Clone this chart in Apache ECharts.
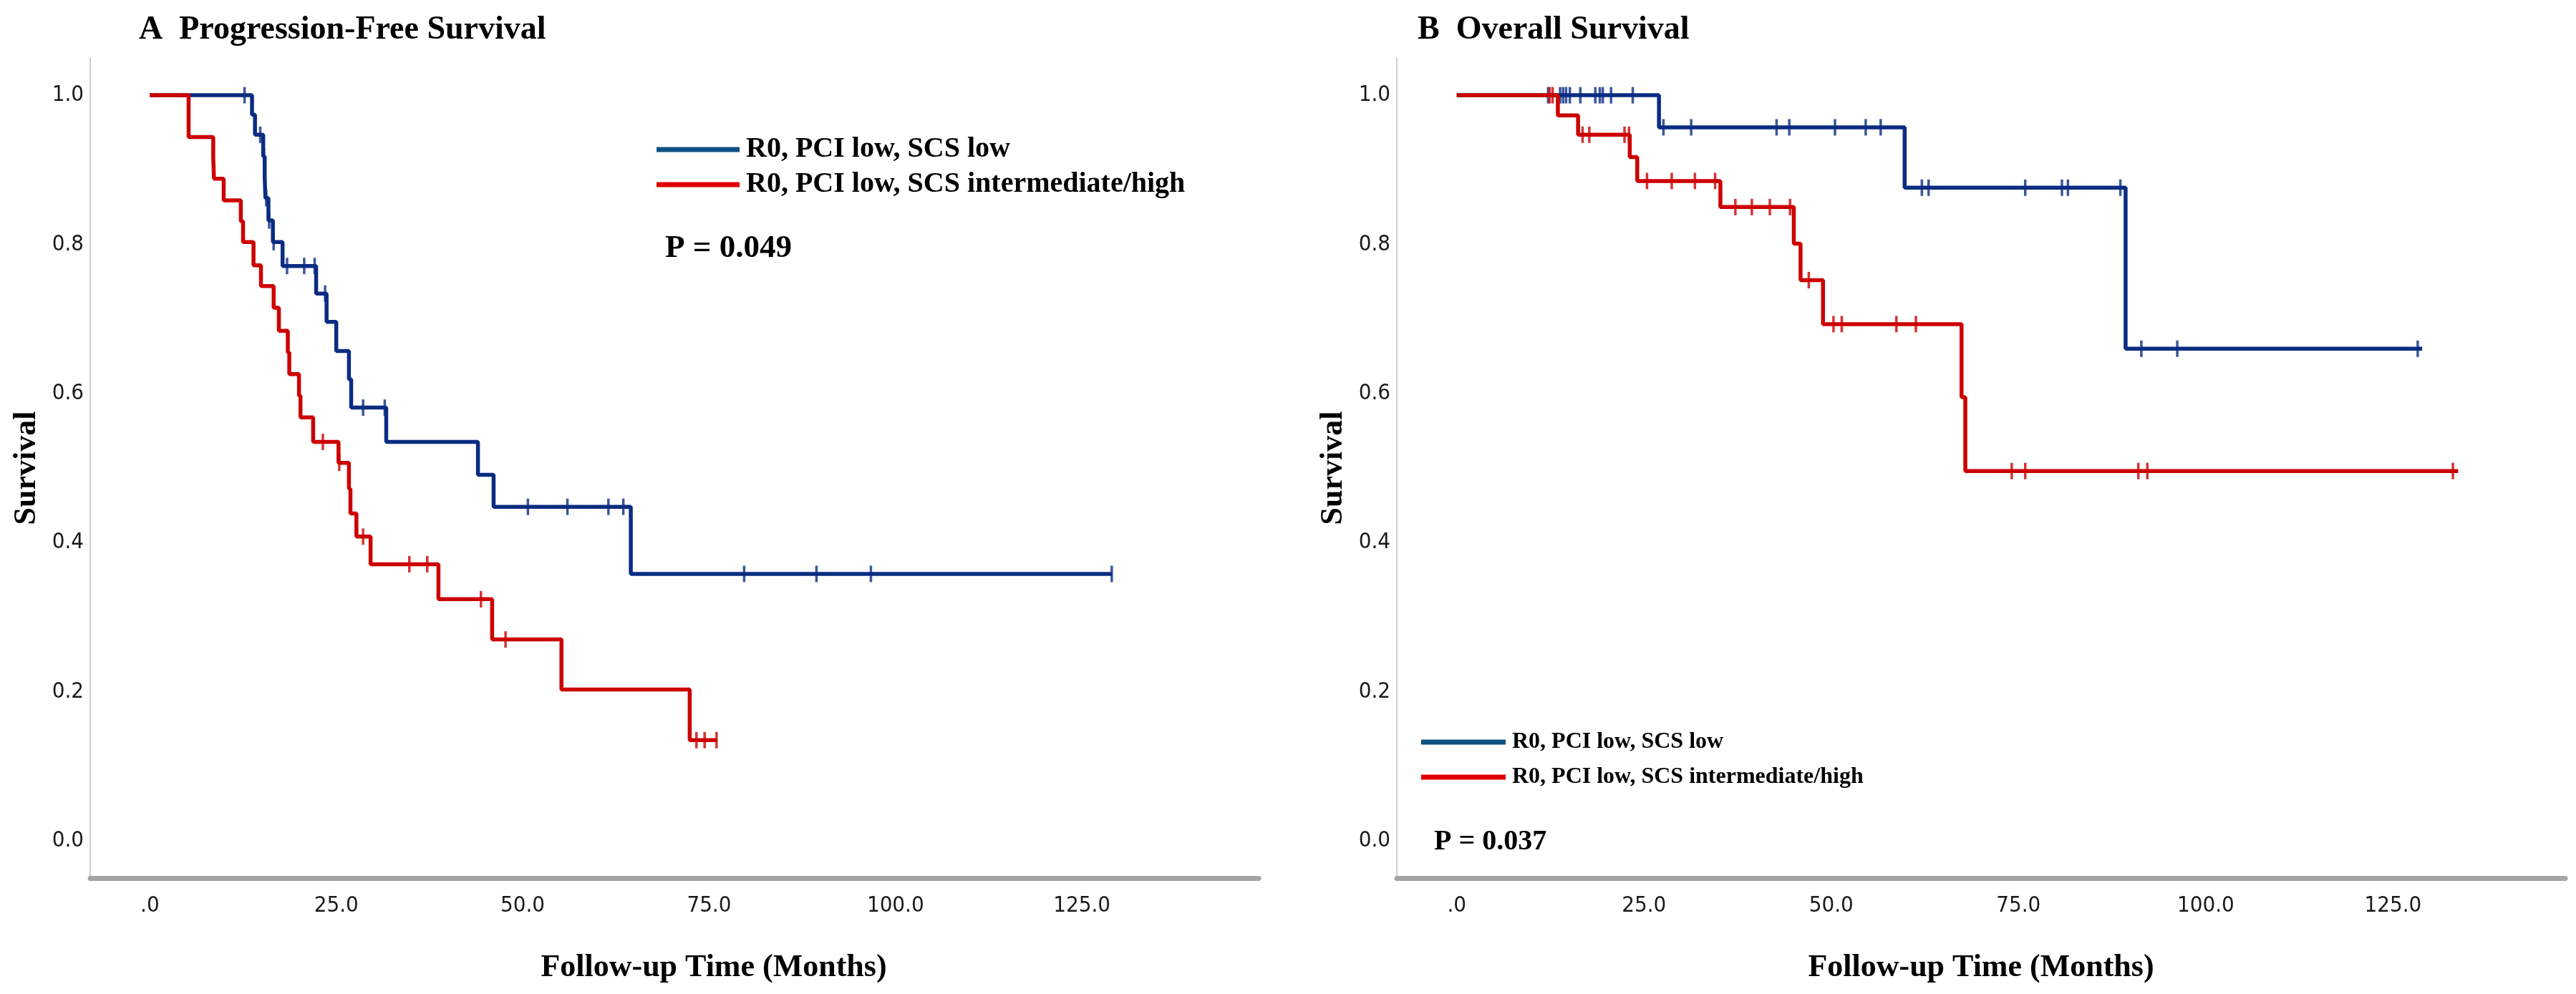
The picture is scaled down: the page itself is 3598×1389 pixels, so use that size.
<!DOCTYPE html>
<html>
<head>
<meta charset="utf-8">
<script src="https://cdn.jsdelivr.net/npm/echarts@6/dist/echarts.min.js"></script>
<style>
html,body{margin:0;padding:0;background:#fff;}
#chart{width:3598px;height:1389px;}
</style>
</head>
<body>
<div id="chart"></div>
<script>
// ---- axis ticks ----
const xTickValues = [0, 25, 50, 75, 100, 125];
const xTickLabels = ['.0', '25.0', '50.0', '75.0', '100.0', '125.0'];
const yTickValues = [0, 0.2, 0.4, 0.6, 0.8, 1.0];
const yTickLabels = ['0.0', '0.2', '0.4', '0.6', '0.8', '1.0'];

const groupNames = ['R0, PCI low, SCS low', 'R0, PCI low, SCS intermediate/high'];

// ---- A: Progression-Free Survival ----
const pfsLowTime = [0, 13.7, 14.1, 15.2, 15.4, 15.5, 15.9, 16.5, 17.8, 22.3, 23.7, 25.0, 26.7, 27.0, 31.7, 44.0, 46.1, 64.5, 129.0];
const pfsLowSurv = [1, 0.974, 0.947, 0.918, 0.890, 0.862, 0.832, 0.803, 0.771, 0.734, 0.696, 0.657, 0.619, 0.581, 0.535, 0.491, 0.448, 0.358, 0.358];
const pfsLowCensor = [12.7, 14.8, 15.3, 15.6, 16.0, 16.6, 18.4, 20.7, 22.1, 23.5, 28.6, 31.5, 50.7, 56.0, 61.5, 63.5, 79.7, 89.4, 96.7, 129.0];

const pfsHighTime = [0, 5.2, 8.5, 8.6, 9.9, 12.2, 12.5, 13.9, 14.9, 16.6, 17.3, 18.5, 18.7, 20.0, 20.2, 21.9, 25.3, 26.7, 26.9, 27.7, 29.6, 38.7, 45.9, 55.2, 72.4, 76.0];
const pfsHighSurv = [1, 0.944, 0.916, 0.888, 0.859, 0.831, 0.803, 0.772, 0.744, 0.715, 0.684, 0.655, 0.626, 0.597, 0.568, 0.535, 0.507, 0.472, 0.439, 0.408, 0.371, 0.324, 0.270, 0.203, 0.135, 0.135];
const pfsHighCensor = [23.2, 25.4, 28.6, 34.8, 37.2, 44.4, 47.7, 73.3, 74.4, 76.0];

// ---- B: Overall Survival ----
const osLowTime = [0, 27.0, 59.8, 89.3, 128.9];
const osLowSurv = [1, 0.957, 0.876, 0.660, 0.660];
const osLowCensor = [12.2, 13.8, 14.2, 14.6, 15.1, 16.5, 18.5, 19.1, 19.5, 20.6, 23.5, 27.6, 31.3, 42.7, 44.4, 50.5, 54.6, 56.6, 62.1, 63.0, 75.9, 80.8, 81.6, 88.6, 91.4, 96.2, 128.3];

const osHighTime = [0, 13.5, 16.2, 23.1, 24.1, 35.2, 45.0, 45.9, 48.9, 67.4, 67.9, 133.7];
const osHighSurv = [1, 0.973, 0.947, 0.917, 0.885, 0.850, 0.801, 0.752, 0.693, 0.595, 0.496, 0.496];
const osHighCensor = [12.4, 12.8, 16.8, 17.7, 22.4, 23.0, 25.4, 28.7, 31.8, 34.5, 37.2, 39.4, 41.8, 44.5, 47.0, 50.3, 51.4, 58.7, 61.3, 74.1, 75.9, 91.0, 92.2, 133.0];

// ---- helpers ----
function pairs(t, s) { return t.map((v, i) => [v, s[i]]); }
function levelAt(t, s, x) {
  let v = s[0];
  for (let i = 0; i < t.length; i++) { if (t[i] <= x) v = s[i]; }
  return v;
}
function censorPts(c, t, s) { return c.map(x => [x, levelAt(t, s, x)]); }

const BLUE = '#0a2c82';
const RED = '#cc0000';
const LEG_BLUE = '#0d5183';
const LEG_RED = '#e00000';
const SERIF = "'Liberation Serif', 'Times New Roman', serif";
const NARROW = "'Liberation Sans Narrow', 'Arial Narrow', 'DejaVu Sans Condensed', 'Roboto Condensed', 'Liberation Sans', Arial, sans-serif";

function xAxisCfg(idx, max, nameShift) {
  return {
    type: 'value', gridIndex: idx, min: -8, max: max,
    axisLine: { show: true, onZero: false, lineStyle: { color: '#a3a3a3', width: 7 } },
    axisTick: { show: false },
    splitLine: { show: false },
    axisLabel: {
      customValues: xTickValues, margin: 23,
      fontFamily: NARROW, fontSize: 31, color: '#1a1a1a',
      formatter: v => xTickLabels[xTickValues.indexOf(v)]
    },
    name: 'Follow-up Time (Months)', nameLocation: 'middle', nameGap: 104,
    nameTextStyle: { fontFamily: SERIF, fontWeight: 'bold', fontSize: 44, color: '#000', padding: [0, 0, 0, nameShift] }
  };
}
function yAxisCfg(idx) {
  return {
    type: 'value', gridIndex: idx, min: -0.05, max: 1.05,
    axisLine: { show: true, onZero: false, lineStyle: { color: '#cfcfcf', width: 2 } },
    axisTick: { show: false },
    splitLine: { show: false },
    axisLabel: {
      customValues: yTickValues, margin: 9,
      fontFamily: NARROW, fontSize: 31, color: '#1a1a1a',
      formatter: v => yTickLabels[yTickValues.findIndex(u => Math.abs(u - v) < 1e-9)]
    },
    name: 'Survival', nameLocation: 'middle', nameGap: 66, nameRotate: 90,
    nameTextStyle: { fontFamily: SERIF, fontWeight: 'bold', fontSize: 44, color: '#000' }
  };
}
function lineSeries(name, idx, data, color, z) {
  return {
    name: name, type: 'line', step: 'end', xAxisIndex: idx, yAxisIndex: idx,
    data: data, showSymbol: false, z: z, animation: false,
    lineStyle: { color: color, width: 5.5 }, itemStyle: { color: color }
  };
}
function censorSeries(name, idx, data, color, z) {
  return {
    name: name, type: 'scatter', xAxisIndex: idx, yAxisIndex: idx,
    data: data, symbol: 'rect', symbolSize: [3.5, 23], z: z, animation: false,
    itemStyle: { color: color }
  };
}
function legendCfg(left, top, fontSize, width) {
  return {
    orient: 'vertical', left: left, top: top, padding: 0,
    itemWidth: width, itemHeight: 7, itemGap: 9,
    textStyle: { fontFamily: SERIF, fontWeight: 'bold', fontSize: fontSize, lineHeight: 40, color: '#000', padding: [0, 0, 0, 4] },
    data: [
      { name: groupNames[0], icon: 'rect', itemStyle: { color: LEG_BLUE } },
      { name: groupNames[1], icon: 'rect', itemStyle: { color: LEG_RED } }
    ]
  };
}

const chart = echarts.init(document.getElementById('chart'), null, { renderer: 'canvas' });
chart.setOption({
  backgroundColor: '#ffffff',
  animation: false,
  title: [
    { text: 'A  Progression-Free Survival', left: 189, top: 14, textStyle: { fontFamily: SERIF, fontWeight: 'bold', fontSize: 46, color: '#000' } },
    { text: 'B  Overall Survival', left: 1975, top: 14, textStyle: { fontFamily: SERIF, fontWeight: 'bold', fontSize: 46, color: '#000' } },
    { text: 'P = 0.049', left: 924, top: 320, textStyle: { fontFamily: SERIF, fontWeight: 'bold', fontSize: 45, color: '#000' } },
    { text: 'P = 0.037', left: 1998, top: 1152, textStyle: { fontFamily: SERIF, fontWeight: 'bold', fontSize: 40, color: '#000' } }
  ],
  legend: [
    legendCfg(917, 189, 40, 116),
    legendCfg(1985, 1017, 32, 118)
  ],
  grid: [
    { left: 126, top: 81, width: 1632, height: 1146 },
    { left: 1951, top: 81, width: 1632, height: 1146 }
  ],
  xAxis: [xAxisCfg(0, 148.7, 110), xAxisCfg(1, 148, 0)],
  yAxis: [yAxisCfg(0), yAxisCfg(1)],
  series: [
    lineSeries(groupNames[0], 0, pairs(pfsLowTime, pfsLowSurv), BLUE, 2),
    censorSeries('censor-low-A', 0, censorPts(pfsLowCensor, pfsLowTime, pfsLowSurv), BLUE, 3),
    lineSeries(groupNames[1], 0, pairs(pfsHighTime, pfsHighSurv), RED, 4),
    censorSeries('censor-high-A', 0, censorPts(pfsHighCensor, pfsHighTime, pfsHighSurv), RED, 5),
    lineSeries(groupNames[0], 1, pairs(osLowTime, osLowSurv), BLUE, 2),
    censorSeries('censor-low-B', 1, censorPts(osLowCensor, osLowTime, osLowSurv), BLUE, 3),
    lineSeries(groupNames[1], 1, pairs(osHighTime, osHighSurv), RED, 4),
    censorSeries('censor-high-B', 1, censorPts(osHighCensor, osHighTime, osHighSurv), RED, 5)
  ]
});
</script>
</body>
</html>
